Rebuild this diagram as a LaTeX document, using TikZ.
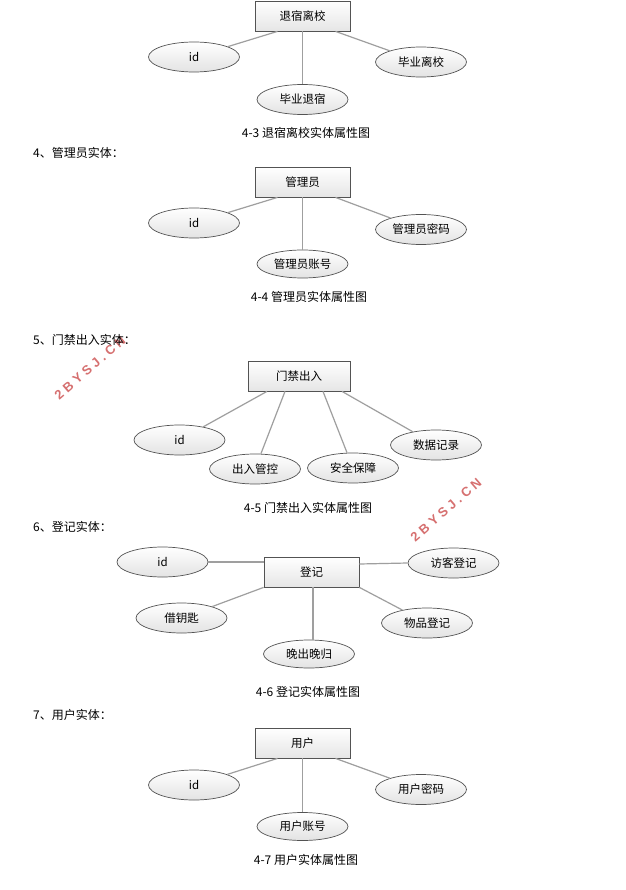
\documentclass[tikz,border=0pt]{standalone}
\usepackage{fontspec}
\setmainfont{Noto Sans CJK SC}
\newfontfamily\wmfont{Liberation Sans}[LetterSpace=28]
\usetikzlibrary{shapes.geometric,shadows}
\definecolor{wmred}{RGB}{214,112,112}
\tikzset{
  ent/.style={draw=gray!65!black, line width=0.8pt, top color=white, bottom color=gray!20,
    minimum width=95pt, minimum height=30pt, inner sep=0pt, font=\fontsize{11.5}{13}\selectfont,
    drop shadow={shadow xshift=1pt, shadow yshift=-1pt, fill=gray!60, opacity=0.8}},
  attr/.style={ellipse, draw=gray!65!black, line width=0.7pt, top color=white, bottom color=gray!22,
    minimum width=91pt, minimum height=30pt, inner sep=0pt, font=\fontsize{11.5}{13}\selectfont},
  link/.style={draw=gray!75, line width=1.2pt},
  captext/.style={inner sep=0pt, font=\fontsize{12}{14}\selectfont},
  headtext/.style={anchor=west, inner sep=0pt, font=\fontsize{12}{14}\selectfont},
  wm/.style={inner sep=0pt, text=wmred, font=\wmfont\bfseries\fontsize{13}{15}\selectfont}
}
\begin{document}
\begin{tikzpicture}[x=1pt,y=-1pt]
\useasboundingbox[fill=white] (0,0) rectangle (625,890);

% ---- watermarks (under the text)
\node[wm, rotate=41] (w1) at (90,368) {2BYSJ.CN};
\node[wm, rotate=41] (w2) at (446,510) {2BYSJ.CN};

% ---- 4-3
\node[ent] (e1) at (302.5,16) {退宿离校};
\node[attr] (e1a) at (194,57) {id};
\node[attr] (e1b) at (421,62) {毕业离校};
\node[attr] (e1c) at (302.5,99.5) {毕业退宿};
\draw[link] ([xshift=-25pt]e1.south) -- (e1a);
\draw[link] (e1.south) -- (e1c.north);
\draw[link] ([xshift=33pt]e1.south) -- (e1b);
\node[captext] (c1) at (306,133) {4-3 退宿离校实体属性图};

% ---- 4-4
\node[headtext] (h2) at (33,153) {4、管理员实体：};
\node[ent] (e2) at (302.5,182) {管理员};
\node[attr] (e2a) at (194,223) {id};
\node[attr] (e2b) at (421,229.5) {管理员密码};
\node[attr, minimum height=28pt] (e2c) at (302.5,264) {管理员账号};
\draw[link] ([xshift=-25pt]e2.south) -- (e2a);
\draw[link] (e2.south) -- (e2c.north);
\draw[link] ([xshift=33pt]e2.south) -- (e2b);
\node[captext] (c2) at (309,297) {4-4 管理员实体属性图};

% ---- 4-5
\node[headtext] (h3) at (33,340) {5、门禁出入实体：};
\node[ent, minimum width=102pt] (e3) at (299,376) {门禁出入};
\node[attr] (e3a) at (179.5,440) {id};
\node[attr] (e3b) at (255,469) {出入管控};
\node[attr] (e3c) at (353,468) {安全保障};
\node[attr] (e3d) at (436,445) {数据记录};
\draw[link] ([xshift=-32pt]e3.south) -- (e3a);
\draw[link] ([xshift=-14pt]e3.south) -- (e3b);
\draw[link] ([xshift=24pt]e3.south) -- (e3c);
\draw[link] ([xshift=43pt]e3.south) -- (e3d);
\node[captext] (c3) at (308,508) {4-5 门禁出入实体属性图};

% ---- 4-6
\node[headtext] (h4) at (33,527) {6、登记实体：};
\node[ent] (e4) at (311.5,572) {登记};
\node[attr] (e4a) at (162.5,562) {id};
\node[attr] (e4b) at (453.5,563) {访客登记};
\node[attr] (e4c) at (181.5,618) {借钥匙};
\node[attr] (e4d) at (427,623) {物品登记};
\node[attr, minimum height=28pt] (e4e) at (309,654) {晚出晚归};
\draw[link] (e4a.east) -- (e4a.east -| e4.west);
\draw[link] ([yshift=8pt]e4.east) -- (e4b.west);
\draw[link] (e4.south west) -- (e4c);
\draw[link] (e4.south east) -- (e4d);
\draw[link] ([xshift=1.5pt]e4.south) -- ([xshift=1.5pt]e4.south |- e4e.north);
\node[captext] (c4) at (308,692) {4-6 登记实体属性图};

% ---- 4-7
\node[headtext] (h5) at (33,715) {7、用户实体：};
\node[ent] (e5) at (302.5,743) {用户};
\node[attr] (e5a) at (194,785) {id};
\node[attr] (e5b) at (421,789.5) {用户密码};
\node[attr, minimum height=28pt] (e5c) at (302.5,826.5) {用户账号};
\draw[link] ([xshift=-25pt]e5.south) -- (e5a);
\draw[link] (e5.south) -- (e5c.north);
\draw[link] ([xshift=33pt]e5.south) -- (e5b);
\node[captext] (c5) at (306,860) {4-7 用户实体属性图};
\end{tikzpicture}
\end{document}
